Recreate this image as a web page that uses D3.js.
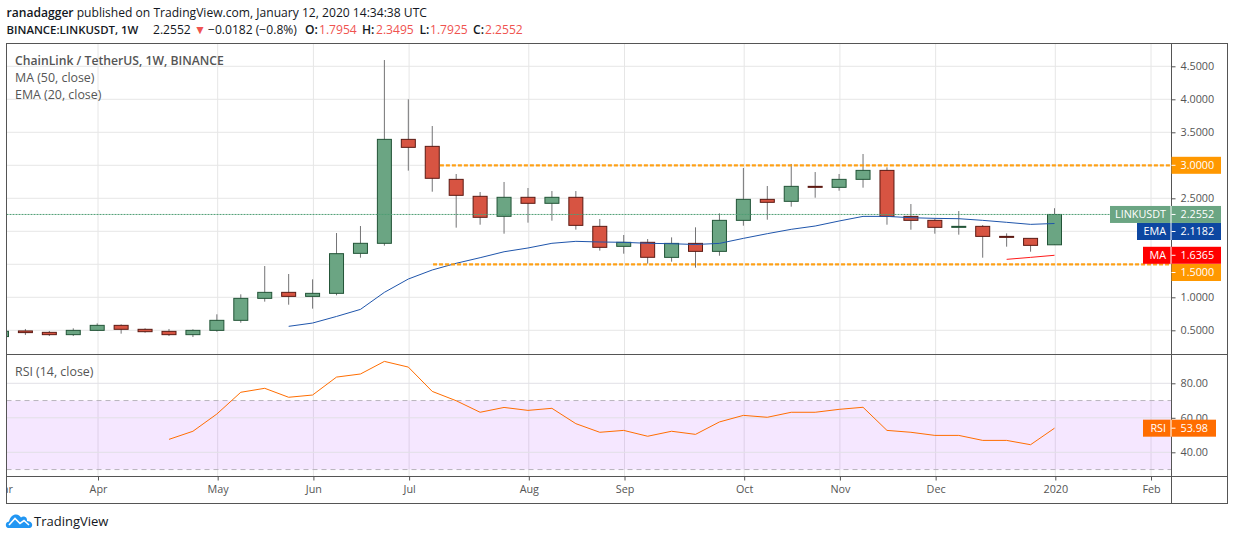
<!DOCTYPE html>
<html>
<head>
<meta charset="utf-8">
<title>LINKUSDT 1W</title>
<script src="https://cdn.jsdelivr.net/npm/d3@7/dist/d3.min.js"></script>
<style>
    html, body { margin: 0; padding: 0; background: #fff; overflow: hidden; }
    svg { display: block; font-family: "Open Sans", sans-serif; }
    .axis path { display: none; }
    .axis line { stroke: #555; }
    .axis text { fill: #555; font-size: 10.8px; font-family: "Open Sans", sans-serif; }
</style>
</head>
<body>
<svg id="chart" width="1234" height="540"></svg>
<script>
const weeks = [
    '2019-03-04', '2019-03-11', '2019-03-18', '2019-03-25', '2019-04-01', '2019-04-08', '2019-04-15', '2019-04-22', '2019-04-29',
    '2019-05-06', '2019-05-13', '2019-05-20', '2019-05-27', '2019-06-03', '2019-06-10', '2019-06-17', '2019-06-24',
    '2019-07-01', '2019-07-08', '2019-07-15', '2019-07-22', '2019-07-29', '2019-08-05', '2019-08-12', '2019-08-19', '2019-08-26',
    '2019-09-02', '2019-09-09', '2019-09-16', '2019-09-23', '2019-09-30', '2019-10-07', '2019-10-14', '2019-10-21', '2019-10-28',
    '2019-11-04', '2019-11-11', '2019-11-18', '2019-11-25', '2019-12-02', '2019-12-09', '2019-12-16', '2019-12-23', '2019-12-30',
    '2020-01-06'
];

const opens = [
    0.405, 0.490, 0.469, 0.434, 0.499, 0.575, 0.515, 0.484, 0.434,
    0.499, 0.651, 0.984, 1.075, 1.014, 1.060, 1.666, 1.818,
    3.393, 3.287, 2.787, 2.530, 2.227, 2.515, 2.424, 2.515, 2.075,
    1.772, 1.833, 1.605, 1.817, 1.696, 2.166, 2.484, 2.454, 2.681,
    2.666, 2.787, 2.923, 2.226, 2.166, 2.060, 2.075, 1.923, 1.893,
    1.7954
];
const highs = [
    0.490, 0.520, 0.490, 0.530, 0.605, 0.590, 0.530, 0.520, 0.515,
    0.742, 1.045, 1.474, 1.353, 1.272, 1.974, 2.080, 4.595,
    4.000, 3.595, 2.868, 2.595, 2.747, 2.656, 2.610, 2.610, 2.186,
    1.944, 1.883, 1.908, 2.060, 2.272, 2.959, 2.686, 3.020, 2.898,
    2.868, 3.171, 2.969, 2.413, 2.196, 2.307, 2.095, 1.969, 1.893,
    2.3495
];
const lows = [
    0.400, 0.430, 0.413, 0.413, 0.490, 0.449, 0.464, 0.413, 0.398,
    0.479, 0.615, 0.934, 0.888, 0.828, 1.030, 1.600, 1.782,
    2.919, 2.600, 2.055, 2.100, 1.964, 2.131, 2.161, 2.025, 1.707,
    1.661, 1.510, 1.540, 1.449, 1.630, 2.085, 2.176, 2.373, 2.509,
    2.615, 2.661, 2.100, 2.024, 1.964, 1.949, 1.600, 1.767, 1.691,
    1.7925
];
const closes = [
    0.485, 0.465, 0.434, 0.499, 0.575, 0.515, 0.479, 0.434, 0.499,
    0.651, 0.984, 1.075, 1.014, 1.060, 1.661, 1.818, 3.393,
    3.272, 2.803, 2.545, 2.212, 2.515, 2.424, 2.515, 2.090, 1.757,
    1.833, 1.606, 1.817, 1.696, 2.166, 2.484, 2.439, 2.681, 2.666,
    2.787, 2.923, 2.226, 2.166, 2.060, 2.075, 1.923, 1.908, 1.787,
    2.2552
];
const emaValues = [
    null, null, null, null, null, null, null, null, null,
    null, null, null, 0.56, 0.61, 0.71, 0.817, 1.075,
    1.277, 1.414, 1.515, 1.600, 1.690, 1.747, 1.818, 1.848, 1.838,
    1.833, 1.818, 1.812, 1.800, 1.817, 1.893, 1.964, 2.030, 2.080,
    2.156, 2.226, 2.226, 2.206, 2.196, 2.191, 2.166, 2.136, 2.105,
    2.1182
];
const maValues = [
    null, null, null, null, null, null, null, null, null,
    null, null, null, null, null, null, null, null,
    null, null, null, null, null, null, null, null, null,
    null, null, null, null, null, null, null, null, null,
    null, null, null, null, null, null, null, 1.575, 1.605,
    1.6365
];
const rsiValues = [
    null, null, null, null, null, null, null, 47.5, 52.2,
    62.2, 74.8, 77.1, 71.9, 73.2, 83.6, 85.4, 92.7,
    89.4, 75.3, 69.9, 63.2, 66.0, 64.3, 65.5, 56.6, 51.6,
    52.7, 49.3, 52.2, 50.4, 57.6, 61.4, 60.3, 63.2, 63.2,
    64.9, 66.1, 52.7, 51.6, 49.8, 49.8, 46.9, 46.9, 44.4,
    53.98
];

const priceGrid = [0.5, 1, 1.5, 2, 2.5, 3, 3.5, 4, 4.5];
// 1.5, 2 and 3 sit under the price tags, so they get no axis label
const priceTicks = [0.5, 1, 2.5, 3.5, 4, 4.5];
const rsiTicks = [40, 60, 80];
const monthDates = ['2019-03-04', '2019-04-01', '2019-05-06', '2019-06-03', '2019-07-01', '2019-08-05', '2019-09-02', '2019-10-07', '2019-11-04', '2019-12-02', '2020-01-06', '2020-02-03'];
const monthLabels = ['Mar', 'Apr', 'May', 'Jun', 'Jul', 'Aug', 'Sep', 'Oct', 'Nov', 'Dec', '2020', 'Feb'];
const levels = [3.0, 1.5];
const levelStarts = ['2019-07-10', '2019-07-08'];

const parseDay = d3.utcParse('%Y-%m-%d');

const frame = { left: 6.5, right: 1227.5, top: 43.5, bottom: 503.5 };
const axisX = 1171.5;
const priceBottom = 354.5;
const rsiBottom = 476.5;
const wickShift = -0.8;

const x = d3.scaleUtc().domain([parseDay('2019-04-01'), parseDay('2020-01-06')]).range([98, 1055.3]);
const y = d3.scaleLinear().domain([3, 1]).range([165.3, 297.3]);
const yRsi = d3.scaleLinear().domain([80, 40]).range([383.3, 452.3]);
const cx = i => x(parseDay(weeks[i])) + wickShift;

const svg = d3.select('#chart');

const defs = svg.append('defs');
defs.append('clipPath').attr('id', 'price-clip').append('rect')
    .attr('x', frame.left).attr('y', frame.top).attr('width', axisX - frame.left).attr('height', priceBottom - frame.top);
defs.append('clipPath').attr('id', 'rsi-clip').append('rect')
    .attr('x', frame.left).attr('y', priceBottom).attr('width', axisX - frame.left).attr('height', rsiBottom - priceBottom);
defs.append('clipPath').attr('id', 'time-clip').append('rect')
    .attr('x', frame.left).attr('y', rsiBottom).attr('width', axisX - frame.left).attr('height', frame.bottom - rsiBottom);

drawHeader();

const pricePane = svg.append('g').attr('clip-path', 'url(#price-clip)');
const rsiPane = svg.append('g').attr('clip-path', 'url(#rsi-clip)');

drawGrid();
drawCandles();
drawLines();
drawRsi();
drawFrameAndAxes();
drawPriceTags();
drawPaneTitles();
drawLogo();

function drawHeader() {
    const line1 = svg.append('text').attr('x', 6.5).attr('y', 17).attr('font-size', 12.1).attr('fill', '#131722');
    line1.append('tspan').attr('font-weight', 600).text('ranadagger');
    line1.append('tspan').text(' published on TradingView.com, January 12, 2020 14:34:38 UTC');

    const segments = [
        { x: 6.5, text: 'BINANCE:LINKUSDT, 1W', bold: true, size: 11.4 },
        { x: 153, text: '2.2552' },
        { x: 194, text: '▼', color: '#ef5350' },
        { x: 208, text: '−0.0182 (−0.8%)' },
        { x: 305, text: 'O:', bold: true },
        { x: 319, text: '1.7954', color: '#ef5350' },
        { x: 362, text: 'H:', bold: true },
        { x: 376, text: '2.3495', color: '#ef5350' },
        { x: 419.5, text: 'L:', bold: true },
        { x: 430, text: '1.7925', color: '#ef5350' },
        { x: 473, text: 'C:', bold: true },
        { x: 485, text: '2.2552', color: '#ef5350' }
    ];
    svg.append('g').selectAll('text').data(segments).enter().append('text')
        .attr('x', d => d.x)
        .attr('y', 34)
        .attr('font-size', d => d.size || 12.1)
        .attr('font-weight', d => d.bold ? 600 : 400)
        .attr('fill', d => d.color || '#131722')
        .text(d => d.text);
}

function drawGrid() {
    const monthX = monthDates.map(parseDay);
    [[pricePane, frame.top, priceBottom], [rsiPane, priceBottom, rsiBottom]].forEach(([pane, top, bottom]) => {
        pane.append('g').selectAll('line').data(monthX).enter().append('line')
            .attr('x1', d => x(d)).attr('x2', d => x(d))
            .attr('y1', top).attr('y2', bottom)
            .attr('stroke', '#e6e6e6');
    });
    pricePane.append('g').selectAll('line').data(priceGrid).enter().append('line')
        .attr('x1', frame.left).attr('x2', axisX)
        .attr('y1', d => y(d)).attr('y2', d => y(d))
        .attr('stroke', '#e6e6e6');

    rsiPane.append('rect')
        .attr('x', frame.left).attr('width', axisX - frame.left)
        .attr('y', yRsi(70)).attr('height', yRsi(30) - yRsi(70))
        .attr('fill', '#9915ff').attr('fill-opacity', 0.1);
    rsiPane.append('g').selectAll('line').data(rsiTicks).enter().append('line')
        .attr('x1', frame.left).attr('x2', axisX)
        .attr('y1', d => yRsi(d)).attr('y2', d => yRsi(d))
        .attr('stroke', '#e2e0e6');
    rsiPane.append('g').selectAll('line').data([70, 30]).enter().append('line')
        .attr('x1', frame.left).attr('x2', axisX)
        .attr('y1', d => yRsi(d)).attr('y2', d => yRsi(d))
        .attr('stroke', '#b8b4bc')
        .attr('stroke-dasharray', '5,4');
}

function drawCandles() {
    const candles = pricePane.append('g').selectAll('g').data(weeks).enter().append('g');
    candles.append('line')
        .attr('x1', (d, i) => cx(i)).attr('x2', (d, i) => cx(i))
        .attr('y1', (d, i) => y(highs[i])).attr('y2', (d, i) => y(lows[i]))
        .attr('stroke', '#737375');
    candles.append('rect')
        .attr('x', (d, i) => cx(i) - 7)
        .attr('width', 14)
        .attr('y', (d, i) => y(Math.max(opens[i], closes[i])))
        .attr('height', (d, i) => Math.abs(y(opens[i]) - y(closes[i])))
        .attr('fill', (d, i) => closes[i] >= opens[i] ? '#6ba583' : '#d75442')
        .attr('stroke', (d, i) => closes[i] >= opens[i] ? '#225437' : '#5b1a13')
        .attr('stroke-width', 1);
}

function drawLines() {
    const lineOf = values => d3.line()
        .defined(d => values[d] !== null)
        .x(d => cx(d))
        .y(d => y(values[d]));
    const indexes = weeks.map((d, i) => i);

    // price line of the last close
    pricePane.append('line')
        .attr('x1', frame.left).attr('x2', axisX)
        .attr('y1', y(closes[closes.length - 1])).attr('y2', y(closes[closes.length - 1]))
        .attr('stroke', '#4f9e74')
        .attr('stroke-dasharray', '2,1');

    pricePane.append('path')
        .attr('d', lineOf(emaValues)(indexes))
        .attr('fill', 'none')
        .attr('stroke', '#1f55ab')
        .attr('stroke-width', 1);
    pricePane.append('path')
        .attr('d', lineOf(maValues)(indexes))
        .attr('fill', 'none')
        .attr('stroke', '#ff1a1a')
        .attr('stroke-width', 1);

    pricePane.append('g').selectAll('line').data(levels).enter().append('line')
        .attr('x1', (d, i) => x(parseDay(levelStarts[i])))
        .attr('x2', axisX)
        .attr('y1', d => y(d)).attr('y2', d => y(d))
        .attr('stroke', '#ff9800')
        .attr('stroke-opacity', 0.9)
        .attr('stroke-width', 2.2)
        .attr('stroke-dasharray', '4,2');
}

function drawRsi() {
    const line = d3.line()
        .defined(d => rsiValues[d] !== null)
        .x(d => cx(d))
        .y(d => yRsi(rsiValues[d]));
    rsiPane.append('path')
        .attr('d', line(weeks.map((d, i) => i)))
        .attr('fill', 'none')
        .attr('stroke', '#ff6d00')
        .attr('stroke-width', 1);
}

function drawFrameAndAxes() {
    svg.append('rect')
        .attr('x', frame.left).attr('y', frame.top)
        .attr('width', frame.right - frame.left).attr('height', frame.bottom - frame.top)
        .attr('fill', 'none').attr('stroke', '#555');
    svg.append('line').attr('x1', frame.left).attr('x2', frame.right).attr('y1', priceBottom).attr('y2', priceBottom).attr('stroke', '#555');
    svg.append('line').attr('x1', frame.left).attr('x2', frame.right).attr('y1', rsiBottom).attr('y2', rsiBottom).attr('stroke', '#555');
    svg.append('line').attr('x1', axisX).attr('x2', axisX).attr('y1', frame.top).attr('y2', frame.bottom).attr('stroke', '#555');

    svg.append('g')
        .attr('class', 'axis')
        .attr('transform', `translate(${axisX}, 0)`)
        .call(d3.axisRight(y).tickValues(priceTicks).tickSize(4).tickPadding(5).tickFormat(d3.format('.4f')));

    svg.append('g')
        .attr('class', 'axis')
        .attr('transform', `translate(${axisX}, 0)`)
        .call(d3.axisRight(yRsi).tickValues(rsiTicks).tickSize(4).tickPadding(5).tickFormat(d3.format('.2f')));

    svg.append('g')
        .attr('clip-path', 'url(#time-clip)')
        .append('g')
        .attr('class', 'axis')
        .attr('transform', `translate(0, ${rsiBottom})`)
        .call(d3.axisBottom(x)
            .tickValues(monthDates.map(parseDay))
            .tickSize(4)
            .tickPadding(5)
            .tickFormat((d, i) => monthLabels[i]));
}

function drawPriceTags() {
    const tags = [
        { name: null, value: '3.0000', center: y(3), color: '#ff9800', left: axisX, right: 1221 },
        { name: 'LINKUSDT', value: '2.2552', center: y(2.2552), color: '#6ba583', left: 1110, right: 1221 },
        { name: 'EMA', value: '2.1182', center: 231.5, color: '#0d47a1', left: 1137, right: 1221 },
        { name: 'MA', value: '1.6365', center: y(1.6365), color: '#ff0000', left: 1143, right: 1221 },
        { name: null, value: '1.5000', center: 272.5, color: '#ff9800', left: axisX, right: 1221 },
        { name: 'RSI', value: '53.98', center: yRsi(53.98), color: '#ff6d00', left: 1143, right: 1216 }
    ];
    const groups = svg.append('g').selectAll('g').data(tags).enter().append('g');
    groups.append('rect')
        .attr('x', d => d.left).attr('width', d => d.right - d.left)
        .attr('y', d => d.center - 8.5).attr('height', 17)
        .attr('fill', d => d.color);
    groups.filter(d => d.name).append('line')
        .attr('x1', axisX - 0.5).attr('x2', axisX - 0.5)
        .attr('y1', d => d.center - 8.5).attr('y2', d => d.center + 8.5)
        .attr('stroke', '#fff');
    groups.append('line')
        .attr('x1', axisX).attr('x2', axisX + 4)
        .attr('y1', d => d.center).attr('y2', d => d.center)
        .attr('stroke', '#fff');
    groups.filter(d => d.name).append('text')
        .attr('x', axisX - 5.5)
        .attr('y', d => d.center + 3.9)
        .attr('text-anchor', 'end')
        .attr('font-size', 10.8)
        .attr('fill', '#fff')
        .text(d => d.name);
    groups.append('text')
        .attr('x', axisX + 9)
        .attr('y', d => d.center + 3.9)
        .attr('font-size', 10.8)
        .attr('fill', '#fff')
        .text(d => d.value);
}

function drawPaneTitles() {
    const titles = [
        { text: 'ChainLink / TetherUS, 1W, BINANCE', y: 64.5, weight: 600 },
        { text: 'MA (50, close)', y: 82, weight: 400 },
        { text: 'EMA (20, close)', y: 99, weight: 400 },
        { text: 'RSI (14, close)', y: 376, weight: 400 }
    ];
    svg.append('g').selectAll('text').data(titles).enter().append('text')
        .attr('x', 15)
        .attr('y', d => d.y)
        .attr('font-size', d => d.weight === 600 ? 12.2 : 12.4)
        .attr('font-weight', d => d.weight)
        .attr('fill', '#555')
        .text(d => d.text);
}

function drawLogo() {
    const logo = svg.append('g').attr('transform', 'translate(6, 514)');
    logo.append('path')
        .attr('d', 'M2,14 C-1,13 -1,8 3,7.5 C4,3 7,0.5 10,0.5 C12.5,0.5 14,2 15,3.5 C16.5,2 19,2 20.5,4 C21,5 21,6 21,7 C25,7 27,10 26,12 C25.5,13.5 24.5,14 23,14 Z')
        .attr('fill', '#2196f3');
    logo.append('path')
        .attr('d', 'M3,11 L9,4.5 L14,9.5 L18,6.5 L23,11')
        .attr('fill', 'none')
        .attr('stroke', '#fff')
        .attr('stroke-width', 1.6);
    svg.append('text')
        .attr('x', 34).attr('y', 526)
        .attr('font-size', 13)
        .attr('fill', '#131722')
        .text('TradingView');
}
</script>
</body>
</html>
